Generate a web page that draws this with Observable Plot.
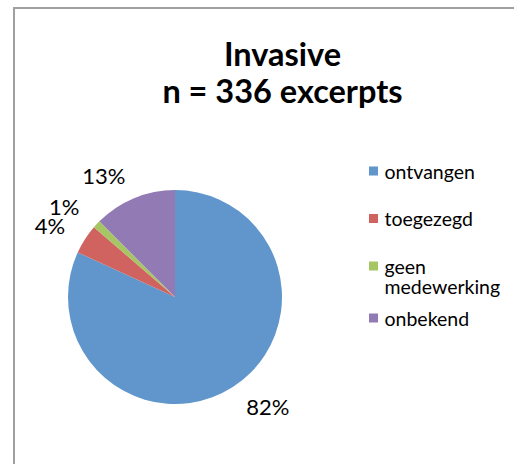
<!DOCTYPE html>
<html>
<head>
<meta charset="utf-8">
<script src="https://cdn.jsdelivr.net/npm/d3@7"></script>
<script src="https://cdn.jsdelivr.net/npm/@observablehq/plot@0.6"></script>
<style>
  html, body { margin: 0; padding: 0; background: #fff; }
  #wrap { position: relative; width: 514px; height: 464px; overflow: hidden; }
  #frame { position: absolute; left: 13px; top: 7px; width: 700px; height: 700px;
           border-left: 2px solid #a0a0a0; border-top: 2px solid #a0a0a0; box-sizing: border-box; }
  #chart { position: absolute; left: 0; top: 0; }
</style>
</head>
<body>
<div id="wrap"><div id="frame"></div><div id="chart"></div></div>
<script>
// ---- data ----
const categories = ["ontvangen", "toegezegd", "geen medewerking", "onbekend"];
const counts = [275, 15, 4, 42];
const percentLabels = ["82%", "4%", "1%", "13%"];
const legendLines = [["ontvangen"], ["toegezegd"], ["geen", "medewerking"], ["onbekend"]];
const colors = ["#6096CC", "#D0625F", "#A6C565", "#927BB4"];
const titleText = "Invasive\nn = 336 excerpts";

// ---- layout ----
const W = 514, H = 464;
const cx = 175, cy = 297, R = 107, labelR = 131;
const font = "Lato, 'Open Sans', sans-serif";

const rows = categories.map((c, i) => ({category: c, count: counts[i], label: percentLabels[i]}));
const arcs = d3.pie().sort(null).value(d => d.count).startAngle(0).endAngle(2 * Math.PI)(rows);
const labelRows = arcs.map(a => {
  const m = (a.startAngle + a.endAngle) / 2;
  return {...a.data, x: cx + labelR * Math.sin(m), y: cy - labelR * Math.cos(m), right: Math.sin(m) >= 0};
});

// legend layout
const legX = 369, legY0 = 172, legGap = 47.5, legLine = 20.5, legExtra = 4.5, sw = 9;
let extra = 0;
const legRows = [], legTextRows = [];
categories.forEach((c, i) => {
  const y = legY0 + i * legGap + extra;
  legRows.push({category: c, y});
  legendLines[i].forEach((t, j) => legTextRows.push({text: t, y: y + j * legLine}));
  extra += (legendLines[i].length - 1) * legExtra;
});

const pieMark = (index, scales) => {
  const sx = scales.x, col = scales.color;
  const g = d3.create("svg:g").attr("transform", `translate(${sx(cx)},${scales.y(cy)})`);
  const arcGen = d3.arc().innerRadius(0).outerRadius(sx(cx + R) - sx(cx));
  g.selectAll("path").data(arcs).join("path")
    .attr("d", arcGen)
    .attr("fill", d => col(d.data.category));
  return g.node();
};

const chart = Plot.plot({
  width: W, height: H, margin: 0,
  style: {fontFamily: font, background: "transparent"},
  x: {domain: [0, W], range: [0, W], axis: null},
  y: {domain: [0, H], range: [0, H], axis: null},
  color: {domain: categories, range: colors},
  marks: [
    Plot.rect(legRows, {x1: legX, x2: legX + sw, y1: d => d.y - sw / 2 - 1, y2: d => d.y + sw / 2 - 1, fill: "category"}),
    pieMark,
    Plot.text(legTextRows, {x: legX + 15, y: "y", text: "text", textAnchor: "start", lineAnchor: "middle", fontSize: 19.5, fill: "#000"}),
    Plot.text(labelRows.filter(d => d.right), {x: "x", y: "y", text: "label", textAnchor: "start", lineAnchor: "middle", fontSize: 22, fill: "#000"}),
    Plot.text(labelRows.filter(d => !d.right), {x: "x", y: "y", text: "label", textAnchor: "end", lineAnchor: "middle", fontSize: 22, fill: "#000"}),
    Plot.text([titleText], {x: 282, y: 40, text: d => d, textAnchor: "middle", lineAnchor: "top", fontSize: 32.5, fontWeight: "bold", lineHeight: 1.12, fill: "#000"})
  ]
});
document.getElementById("chart").appendChild(chart);
</script>
</body>
</html>
